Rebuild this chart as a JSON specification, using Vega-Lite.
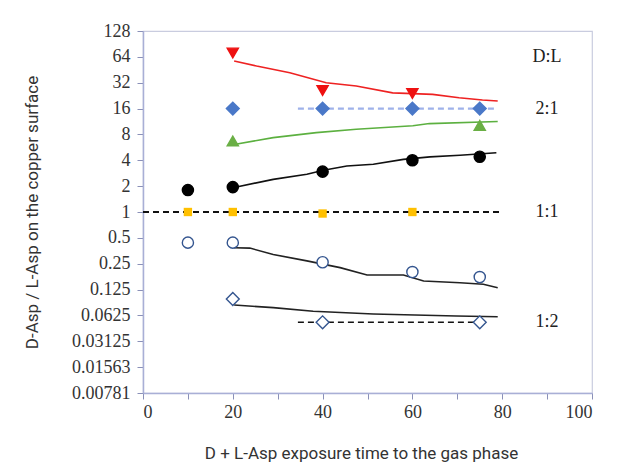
{
  "$schema": "https://vega.github.io/schema/vega-lite/v6.json",
  "width": 449,
  "height": 362,
  "autosize": {"type": "none"},
  "padding": {"left": 143, "top": 31, "right": 25, "bottom": 76},
  "background": "white",
  "config": {
    "view": {"stroke": "#c9ccdf", "strokeWidth": 1.2},
    "axis": {
      "grid": false,
      "domainColor": "#a9afd6",
      "domainWidth": 1.5,
      "tickColor": "#8a90b8",
      "tickSize": 6,
      "labelFont": "Liberation Serif",
      "labelFontSize": 18,
      "labelColor": "#333333",
      "titleFont": "Roboto",
      "titleFontSize": 17,
      "titleFontWeight": "normal",
      "titleColor": "#333333"
    }
  },
  "datasets": {
    "fits": [
      {"curve": "A", "x": 20.3, "y": 57.3}, {"curve": "A", "x": 25.3, "y": 50}, {"curve": "A", "x": 32.7, "y": 41.9}, {"curve": "A", "x": 40.8, "y": 32}, {"curve": "A", "x": 47.5, "y": 29.3}, {"curve": "A", "x": 55.6, "y": 24.4}, {"curve": "A", "x": 64.5, "y": 23.4}, {"curve": "A", "x": 70.4, "y": 21.4}, {"curve": "A", "x": 75.6, "y": 20.1}, {"curve": "A", "x": 79, "y": 19.6},
      {"curve": "B", "x": 20.3, "y": 6.1}, {"curve": "B", "x": 29, "y": 7.35}, {"curve": "B", "x": 38.6, "y": 8.4}, {"curve": "B", "x": 47.5, "y": 9.2}, {"curve": "B", "x": 60.1, "y": 10.1}, {"curve": "B", "x": 63.8, "y": 10.7}, {"curve": "B", "x": 79, "y": 11.3},
      {"curve": "C", "x": 20.3, "y": 1.93}, {"curve": "C", "x": 29, "y": 2.4}, {"curve": "C", "x": 36.5, "y": 2.75}, {"curve": "C", "x": 40.2, "y": 3.06}, {"curve": "C", "x": 45.4, "y": 3.43}, {"curve": "C", "x": 51.3, "y": 3.6}, {"curve": "C", "x": 58, "y": 4.1}, {"curve": "C", "x": 63.9, "y": 4.38}, {"curve": "C", "x": 70.6, "y": 4.57}, {"curve": "C", "x": 78.7, "y": 4.9},
      {"curve": "D", "x": 20.3, "y": 0.384}, {"curve": "D", "x": 23.8, "y": 0.38}, {"curve": "D", "x": 29, "y": 0.32}, {"curve": "D", "x": 36.5, "y": 0.27}, {"curve": "D", "x": 43.9, "y": 0.225}, {"curve": "D", "x": 49.9, "y": 0.185}, {"curve": "D", "x": 58, "y": 0.185}, {"curve": "D", "x": 62.5, "y": 0.157}, {"curve": "D", "x": 70.6, "y": 0.15}, {"curve": "D", "x": 75.8, "y": 0.144}, {"curve": "D", "x": 79, "y": 0.131},
      {"curve": "E", "x": 20.3, "y": 0.0825}, {"curve": "E", "x": 29, "y": 0.077}, {"curve": "E", "x": 37.9, "y": 0.07}, {"curve": "E", "x": 51.3, "y": 0.065}, {"curve": "E", "x": 69.8, "y": 0.0616}, {"curve": "E", "x": 79, "y": 0.0603}
    ],
    "dashes": [
      {"curve": "2:1", "x": 34.5, "y": 16}, {"curve": "2:1", "x": 79, "y": 16},
      {"curve": "1:1", "x": 0, "y": 1}, {"curve": "1:1", "x": 80, "y": 1},
      {"curve": "1:2", "x": 34.5, "y": 0.052}, {"curve": "1:2", "x": 76.5, "y": 0.052}
    ],
    "points": [
      {"group": "P1", "x": 20, "y": 71}, {"group": "P1", "x": 40, "y": 26}, {"group": "P1", "x": 60, "y": 24},
      {"group": "P2", "x": 20, "y": 16}, {"group": "P2", "x": 40, "y": 16}, {"group": "P2", "x": 60, "y": 16}, {"group": "P2", "x": 75, "y": 16},
      {"group": "P3", "x": 20, "y": 6.7}, {"group": "P3", "x": 75, "y": 10.2},
      {"group": "P4", "x": 10, "y": 1.8}, {"group": "P4", "x": 20, "y": 1.95}, {"group": "P4", "x": 40, "y": 2.95}, {"group": "P4", "x": 60, "y": 4.0}, {"group": "P4", "x": 75, "y": 4.4},
      {"group": "P5", "x": 10, "y": 1}, {"group": "P5", "x": 20, "y": 1}, {"group": "P5", "x": 40, "y": 0.96}, {"group": "P5", "x": 60, "y": 1},
      {"group": "P6", "x": 10, "y": 0.44}, {"group": "P6", "x": 20, "y": 0.44}, {"group": "P6", "x": 40, "y": 0.26}, {"group": "P6", "x": 60, "y": 0.2}, {"group": "P6", "x": 75, "y": 0.175},
      {"group": "P7", "x": 20, "y": 0.097}, {"group": "P7", "x": 40, "y": 0.052}, {"group": "P7", "x": 75, "y": 0.052}
    ],
    "labels": [
      {"label": "D:L", "x": 90, "y": 64},
      {"label": "2:1", "x": 90, "y": 16},
      {"label": "1:1", "x": 90, "y": 1},
      {"label": "1:2", "x": 90, "y": 0.053}
    ]
  },
  "encoding": {
    "x": {
      "field": "x", "type": "quantitative",
      "scale": {"domain": [0, 100], "nice": false, "zero": false},
      "axis": {
        "title": "D + L-Asp exposure time to the gas phase",
        "values": [0, 10, 20, 30, 40, 50, 60, 70, 80, 90, 100],
        "labelExpr": "datum.value % 20 === 0 ? datum.label : ''",
        "labelPadding": 4,
        "titlePadding": 24,
        "titleX": 218
      }
    },
    "y": {
      "field": "y", "type": "quantitative",
      "scale": {"type": "log", "base": 2, "domain": [0.0078125, 128], "nice": false},
      "axis": {
        "title": "D-Asp / L-Asp on the copper surface",
        "values": [128, 64, 32, 16, 8, 4, 2, 1, 0.5, 0.25, 0.125, 0.0625, 0.03125, 0.015625, 0.0078125],
        "labelExpr": "datum.value >= 1 ? format(datum.value, 'd') : datum.value < 0.02 ? format(datum.value, '.5f') : format(datum.value, '~g')",
        "labelPadding": 7,
        "titlePadding": 30
      }
    }
  },
  "layer": [
    {
      "data": {"name": "fits"},
      "mark": {"type": "line", "strokeWidth": 1.6},
      "encoding": {
        "color": {
          "field": "curve", "type": "nominal", "legend": null,
          "scale": {"domain": ["A", "B", "C", "D", "E"], "range": ["#ee2222", "#5cb040", "#111111", "#222222", "#222222"]}
        }
      }
    },
    {
      "data": {"name": "dashes"},
      "mark": {"type": "line", "strokeDash": [6, 4]},
      "encoding": {
        "stroke": {
          "field": "curve", "type": "nominal", "legend": null,
          "scale": {"domain": ["2:1", "1:1", "1:2"], "range": ["#9fb2ea", "#111111", "#111111"]}
        },
        "strokeWidth": {
          "field": "curve", "type": "nominal", "legend": null,
          "scale": {"domain": ["2:1", "1:1", "1:2"], "range": [2.2, 1.5, 1.5]}
        }
      }
    },
    {
      "data": {"name": "points"},
      "transform": [{"filter": "datum.group !== 'P5' && datum.group !== 'P2' && datum.group !== 'P7'"}],
      "mark": {"type": "point", "filled": false, "opacity": 1, "strokeWidth": 1.4, "size": 125},
      "encoding": {
        "shape": {
          "field": "group", "type": "nominal", "legend": null,
          "scale": {"domain": ["P1", "P2", "P3", "P4", "P5", "P6", "P7"], "range": ["triangle-down", "diamond", "triangle-up", "circle", "square", "circle", "diamond"]}
        },
        "fill": {
          "field": "group", "type": "nominal", "legend": null,
          "scale": {"domain": ["P1", "P2", "P3", "P4", "P5", "P6", "P7"], "range": ["#ee1111", "#4a78c8", "#6aaf45", "#000000", "#ffc000", "#ffffff", "#ffffff"]}
        },
        "stroke": {
          "field": "group", "type": "nominal", "legend": null,
          "scale": {"domain": ["P1", "P2", "P3", "P4", "P5", "P6", "P7"], "range": ["#ee1111", "#4a78c8", "#6aaf45", "#000000", "#ffc000", "#34558f", "#34558f"]}
        }
      }
    },
    {
      "data": {"name": "points"},
      "transform": [{"filter": "datum.group === 'P2' || datum.group === 'P7'"}],
      "mark": {"type": "point", "shape": "diamond", "opacity": 1, "strokeWidth": 1.4, "size": 165},
      "encoding": {
        "fill": {
          "field": "group", "type": "nominal", "legend": null,
          "scale": {"domain": ["P2", "P7"], "range": ["#4a78c8", "#ffffff"]}
        },
        "stroke": {
          "field": "group", "type": "nominal", "legend": null,
          "scale": {"domain": ["P2", "P7"], "range": ["#4a78c8", "#34558f"]}
        }
      }
    },
    {
      "data": {"name": "points"},
      "transform": [{"filter": "datum.group === 'P5'"}],
      "mark": {"type": "point", "shape": "square", "filled": true, "opacity": 1, "size": 70, "color": "#ffc000"},
      "encoding": {}
    },
    {
      "data": {"name": "labels"},
      "mark": {"type": "text", "font": "Liberation Serif", "fontSize": 18, "color": "#222222", "align": "center", "baseline": "middle"},
      "encoding": {"text": {"field": "label", "type": "nominal"}}
    }
  ],
  "resolve": {"scale": {"color": "independent", "stroke": "independent", "fill": "independent", "shape": "independent", "strokeWidth": "independent"}}
}
